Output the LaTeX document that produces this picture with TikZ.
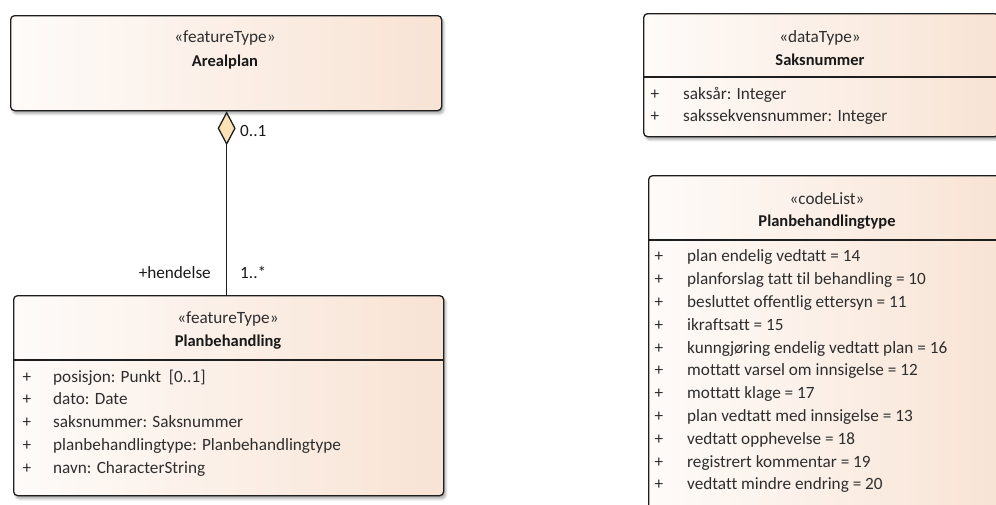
\documentclass[tikz,border=0pt]{standalone}
\usepackage{fontspec}
\setmainfont[Ligatures={NoCommon}]{Carlito}
\usetikzlibrary{arrows.meta,shadows.blur}

\definecolor{boxline}{HTML}{1E1E1E}
\definecolor{fillL}{HTML}{FEFBF9}
\definecolor{fillR}{HTML}{F8E3D4}
\definecolor{dfill}{HTML}{FDE2B5}
\definecolor{txt}{HTML}{2E2E2E}

\newcommand{\regfont}{\fontsize{17.2}{21}\selectfont}
\newcommand{\boldfont}{\fontsize{16.5}{20}\selectfont\bfseries}

\tikzset{
  umlbox/.style={draw=boxline, line width=1.3pt, rounded corners=4pt,
    left color=fillL, right color=fillR, anchor=north west, inner sep=0pt,
    blur shadow={shadow xshift=2pt, shadow yshift=-3pt, shadow blur steps=6,
      shadow blur radius=2.5pt, shadow opacity=35}},
  divline/.style={draw=boxline, line width=1.3pt},
  stereo/.style={font=\regfont, text=txt, inner sep=0pt},
  cname/.style={font=\boldfont, text=black!90, inner sep=0pt},
  attr/.style={font=\regfont, text=txt, inner sep=0pt, anchor=mid west},
  vis/.style={font=\regfont, text=txt, inner sep=0pt, anchor=mid},
  role/.style={font=\regfont, text=black!90, inner sep=0pt},
  assoc/.style={draw=boxline, line width=1.3pt},
}

\begin{document}
\begin{tikzpicture}[x=1pt, y=-1pt]
\useasboundingbox (0,0) rectangle (996,504);
\clip (0,0) rectangle (996,504);

% class boxes
\node[umlbox, minimum width=431pt, minimum height=95pt] (areal) at (10,15) {};
\node[umlbox, minimum width=430pt, minimum height=200pt] (plan) at (13,295) {};
\node[umlbox, minimum width=355pt, minimum height=123pt] (saks) at (643,13) {};
\node[umlbox, minimum width=358pt, minimum height=360pt] (ptype) at (648,175) {};

% compartment dividers
\draw[divline] (plan.west |- 0,360) -- (plan.east |- 0,360);
\draw[divline] (saks.west |- 0,77) -- (saks.east |- 0,77);
\draw[divline] (ptype.west |- 0,240) -- (ptype.east |- 0,240);

% Arealplan
\node[stereo] (arealSt) at (225,38) {«featureType»};
\node[cname] (arealNm) at (225,62) {Arealplan};

% Planbehandling
\node[stereo] (planSt) at (228,319) {«featureType»};
\node[cname] (planNm) at (228,342) {Planbehandling};
\foreach \y/\t [count=\i] in {380/{posisjon: Punkt\ \ [0..1]},
    402.5/{dato: Date},
    425/{saksnummer: Saksnummer},
    448/{planbehandlingtype: Planbehandlingtype},
    471/{navn: CharacterString}} {
  \node[vis] (planV\i) at (27,\y) {+};
  \node[attr] (planA\i) at (53,\y) {\t};
}

% Saksnummer
\node[stereo] (saksSt) at (820,38) {«dataType»};
\node[cname] (saksNm) at (820,60) {Saksnummer};
\foreach \y/\t [count=\i] in {97/{saksår: Integer},
    119.5/{sakssekvensnummer: Integer}} {
  \node[vis] (saksV\i) at (655,\y) {+};
  \node[attr] (saksA\i) at (683,\y) {\t};
}

% Planbehandlingtype
\node[stereo] (ptypeSt) at (827,199) {«codeList»};
\node[cname] (ptypeNm) at (827,222) {Planbehandlingtype};
\foreach \t [count=\i from 0] in {plan endelig vedtatt = 14,
    planforslag tatt til behandling = 10,
    besluttet offentlig ettersyn = 11,
    ikraftsatt = 15,
    kunngjøring endelig vedtatt plan = 16,
    mottatt varsel om innsigelse = 12,
    mottatt klage = 17,
    plan vedtatt med innsigelse = 13,
    vedtatt opphevelse = 18,
    registrert kommentar = 19,
    vedtatt mindre endring = 20} {
  \pgfmathsetmacro{\yy}{259.5+22.8*\i}
  \node[vis] (ptypeV\i) at (659,\yy) {+};
  \node[attr] (ptypeA\i) at (687,\yy) {\t};
}

% aggregation Arealplan <>-- Planbehandling
\draw[assoc, {Diamond[length=34pt, width=18pt, fill=dfill]}-]
  ([xshift=0.5pt]areal.south) -- ([xshift=0.5pt]areal.south |- plan.north);

% association end labels
\node[role, anchor=mid west] (mulTop) at (240,134) {0..1};
\node[role, anchor=mid east] (roleEnd) at (211,276) {+hendelse};
\node[role, anchor=mid west] (mulEnd) at (240,276) {1..*};

\end{tikzpicture}
\end{document}
